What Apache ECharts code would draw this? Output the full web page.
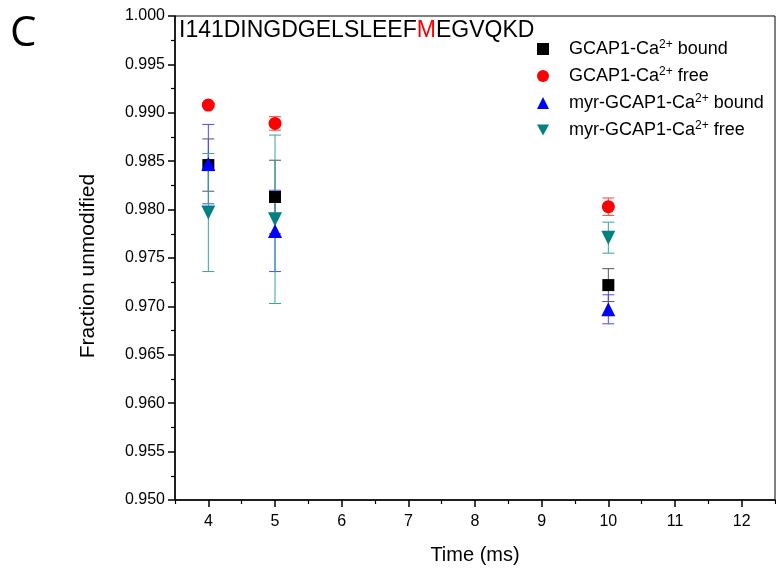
<!DOCTYPE html>
<html>
<head>
<meta charset="utf-8">
<script src="https://cdn.jsdelivr.net/npm/echarts@6/dist/echarts.min.js"></script>
<style>html,body{margin:0;padding:0;background:#fff}#c{width:776px;height:576px}</style>
</head>
<body>
<div id="c"></div>
<script>
const time = [4, 5, 10];
const gcapBound = [0.9846, 0.9813, 0.9722];
const gcapBoundErr = [0.0027, 0.0038, 0.0017];
const gcapFree = [0.9908, 0.9889, 0.9803];
const gcapFreeErr = [0.0002, 0.0007, 0.0009];
const myrBound = [0.9847, 0.9778, 0.9697];
const myrBoundErr = [0.0041, 0.0042, 0.0015];
const myrFree = [0.9797, 0.9790, 0.9771];
const myrFreeErr = [0.0061, 0.0087, 0.0016];
const xTicks = [4, 5, 6, 7, 8, 9, 10, 11, 12];
const xMinorTicks = [3.5, 4.5, 5.5, 6.5, 7.5, 8.5, 9.5, 10.5, 11.5, 12.5];
const seriesNames = ['GCAP1-Ca2+ bound', 'GCAP1-Ca2+ free', 'myr-GCAP1-Ca2+ bound', 'myr-GCAP1-Ca2+ free'];

const chart = echarts.init(document.getElementById('c'), null, {renderer: 'canvas'});
const FONT = 'Liberation Sans, Arial, sans-serif';

function errData(vals, errs) {
  return time.map((t, i) => [t, vals[i] - errs[i], vals[i] + errs[i]]);
}
function errSeries(name, vals, errs, color) {
  return {
    name: name + ' error', type: 'custom', z: 2,
    data: errData(vals, errs),
    itemStyle: {color: color},
    renderItem: function (params, api) {
      const x = api.value(0), lo = api.value(1), hi = api.value(2);
      const a = api.coord([x, hi]), b = api.coord([x, lo]);
      const w = 6;
      const st = {stroke: color, lineWidth: 1};
      return {type: 'group', children: [
        {type: 'line', shape: {x1: a[0], y1: a[1], x2: b[0], y2: b[1]}, style: st},
        {type: 'line', shape: {x1: a[0] - w, y1: a[1], x2: a[0] + w, y2: a[1]}, style: st},
        {type: 'line', shape: {x1: b[0] - w, y1: b[1], x2: b[0] + w, y2: b[1]}, style: st}
      ]};
    }
  };
}
function ptSeries(name, vals, color, symbol, size) {
  return {
    name: name, type: 'scatter', z: 3,
    data: time.map((t, i) => [t, vals[i]]),
    symbol: symbol, symbolSize: size,
    itemStyle: {color: color, opacity: 1}
  };
}
const downTri = 'path://M0,0 L12,0 L6,11 Z';
const colors = ['#000000', '#ff0000', '#0000ff', '#008080'];
const errColors = ['#555555', '#ff4040', '#4a4aff', '#3aa0a0'];

const option = {
  animation: false,
  grid: {left: 175, right: 1, top: 16, bottom: 76, show: true, borderColor: '#000', borderWidth: 1},
  graphic: [
    {type: 'text', left: 10, top: 13, style: {text: 'C', font: '42px "Open Sans", sans-serif', fill: '#000'}},
    {type: 'text', left: 179, top: 19, style: {
      text: 'I141DINGDGELSLEEF{r|M}EGVQKD',
      font: '23px ' + FONT, fill: '#000',
      rich: {r: {fill: '#ff0000', fontSize: 23, fontFamily: FONT}}
    }}
  ],
  legend: {
    orient: 'vertical', left: 532, top: 34, itemGap: 7,
    itemWidth: 12, itemHeight: 12,
    data: [
      {name: seriesNames[0], icon: 'rect', itemStyle: {color: colors[0]}},
      {name: seriesNames[1], icon: 'circle', itemStyle: {color: colors[1]}},
      {name: seriesNames[2], icon: 'triangle', itemStyle: {color: colors[2]}},
      {name: seriesNames[3], icon: downTri, itemStyle: {color: colors[3]}}
    ],
    formatter: function (n) { return n.replace('2+', '{s|2+}'); },
    textStyle: {
      fontFamily: FONT, fontSize: 18, color: '#000', lineHeight: 20, padding: [0, 0, 0, 15],
      rich: {s: {fontSize: 12, fontFamily: FONT, verticalAlign: 'top', lineHeight: 12, color: '#000'}}
    }
  },
  xAxis: [{
    type: 'value', min: 3.5, max: 12.5,
    name: 'Time (ms)', nameLocation: 'middle', nameGap: 45,
    nameTextStyle: {fontFamily: FONT, fontSize: 20, color: '#000'},
    axisLine: {show: true, onZero: false, lineStyle: {color: '#000', width: 1.5}},
    axisTick: {show: true, customValues: xTicks, length: 7, lineStyle: {color: '#000', width: 1.5}},
    axisLabel: {customValues: xTicks, fontFamily: FONT, fontSize: 16, color: '#000', margin: 14},
    splitLine: {show: false}
  }, {
    type: 'value', min: 3.5, max: 12.5, position: 'bottom',
    axisLine: {show: false, onZero: false},
    axisTick: {show: true, customValues: xMinorTicks, length: 4, lineStyle: {color: '#000', width: 1.2}},
    axisLabel: {show: false},
    splitLine: {show: false}
  }],
  yAxis: {
    type: 'value', min: 0.95, max: 1.0, interval: 0.005,
    name: 'Fraction unmodified', nameLocation: 'middle', nameGap: 76,
    nameTextStyle: {fontFamily: FONT, fontSize: 21, color: '#000', padding: [0, 16, 0, 0]},
    axisLine: {show: true, lineStyle: {color: '#000', width: 1.5}},
    axisTick: {show: true, length: 7, lineStyle: {color: '#000', width: 1.5}},
    minorTick: {show: true, splitNumber: 2, length: 4, lineStyle: {color: '#000', width: 1.2}},
    axisLabel: {fontFamily: FONT, fontSize: 16, color: '#000', margin: 10,
      formatter: v => v.toFixed(3)},
    splitLine: {show: false}
  },
  series: [
    ptSeries(seriesNames[0], gcapBound, colors[0], 'rect', 12),
    ptSeries(seriesNames[1], gcapFree, colors[1], 'circle', 13),
    ptSeries(seriesNames[2], myrBound, colors[2], 'triangle', 14),
    ptSeries(seriesNames[3], myrFree, colors[3], downTri, 14),
    errSeries(seriesNames[0], gcapBound, gcapBoundErr, errColors[0]),
    errSeries(seriesNames[1], gcapFree, gcapFreeErr, errColors[1]),
    errSeries(seriesNames[2], myrBound, myrBoundErr, errColors[2]),
    errSeries(seriesNames[3], myrFree, myrFreeErr, errColors[3])
  ]
};
chart.setOption(option);
</script>
</body>
</html>
